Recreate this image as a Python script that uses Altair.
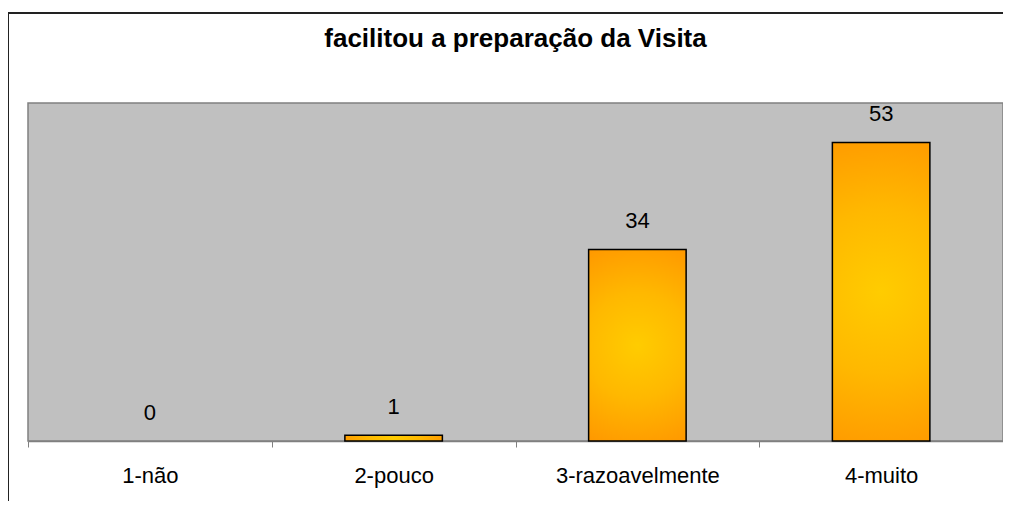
import altair as alt
import pandas as pd

categories = ["1-não", "2-pouco", "3-razoavelmente", "4-muito"]
values = [0, 1, 34, 53]
title_text = "facilitou a preparação da Visita"

df = pd.DataFrame({"cat": categories, "value": values})
tdf = pd.DataFrame({"t": [title_text]})

W, H = 975, 338
FONT = "Liberation Sans"

x_enc = alt.X("cat:N", sort=categories, title=None,
              scale=alt.Scale(paddingInner=0, paddingOuter=0),
              axis=alt.Axis(labelAngle=0, labelFontSize=22, labelFont=FONT,
                            labelColor="black", domainColor="#808080",
                            domainWidth=1.5, tickColor="#808080", tickSize=6,
                            tickBand="extent", labelPadding=18, grid=False))
y_enc = alt.Y("value:Q", scale=alt.Scale(domain=[0, 60]), axis=None)

grad = alt.Gradient(
    gradient="radial",
    stops=[alt.GradientStop(color="#FFCC00", offset=0),
           alt.GradientStop(color="#FFB800", offset=0.5),
           alt.GradientStop(color="#FF9900", offset=1)],
    x1=0.5, y1=0.5, r1=0, x2=0.5, y2=0.5, r2=0.55,
)

bars = alt.Chart(df).transform_filter("datum.value > 0").mark_bar(
    color=grad, stroke="black", strokeWidth=1.5,
    width=alt.RelativeBandSize(0.4)
).encode(x=x_enc, y=y_enc)

labels = alt.Chart(df).mark_text(
    fontSize=22, font=FONT, color="black", baseline="middle", dy=-28
).encode(x=alt.X("cat:N", sort=categories), y="value:Q", text="value:Q")

title = alt.Chart(tdf).mark_text(
    fontSize=26, font=FONT, fontWeight="bold", color="black",
    align="center", baseline="alphabetic"
).encode(x=alt.value(W / 2), y=alt.value(-56), text="t:N")

border = alt.Chart(tdf).mark_rect(
    fill=None, stroke="#222222", strokeWidth=2
).encode(x=alt.value(-20), x2=alt.value(1100), y=alt.value(-90), y2=alt.value(700))

chart = alt.layer(bars, labels, title, border).properties(
    width=W, height=H,
    autosize=alt.AutoSizeParams(type="none"),
    padding={"left": 20, "top": 95, "right": 0, "bottom": 60},
).configure_view(
    fill="#C0C0C0", stroke="#808080", strokeWidth=1.5
)

chart.save("out.html", embed_options={"renderer": "svg", "actions": False})
